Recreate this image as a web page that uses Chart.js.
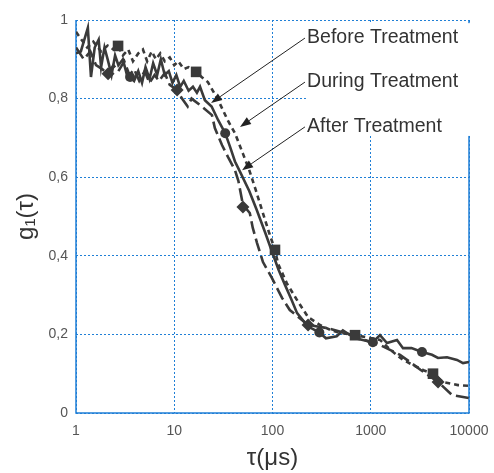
<!DOCTYPE html>
<html>
<head>
<meta charset="utf-8">
<script src="https://cdn.jsdelivr.net/npm/chart.js@4.4.0/dist/chart.umd.min.js"></script>
<style>
  body { margin: 0; background: #fff; }
  #wrap { width: 494px; height: 473px; }
</style>
</head>
<body>
<div id="wrap"><canvas id="chart-1"></canvas></div>
<script>
// Data: [tau (µs), g1]

// solid line, circles
const before = [[1,0.915],[1.12,0.92],[1.25,0.96],[1.32,0.98],[1.42,0.855],[1.55,0.93],[1.7,0.95],[1.8,0.88],
    [1.95,0.93],[2.1,0.90],[2.3,0.86],[2.5,0.91],[2.7,0.885],[3.0,0.90],[3.3,0.86],[3.55,0.855],[3.9,0.845],
    [4.3,0.87],[4.7,0.84],[5.1,0.88],[5.6,0.85],[6.1,0.89],[6.7,0.86],[7.3,0.90],[8.0,0.86],[8.8,0.87],
    [9.6,0.84],[10.5,0.86],[11.5,0.83],[12.5,0.845],[14,0.82],[15.5,0.83],[17,0.815],[18.3,0.83],[20.5,0.796],
    [24,0.78],[28,0.745],[33,0.712],[37,0.677],[41.5,0.64],[46.5,0.615],[58,0.565],[69,0.517],[84,0.46],
    [100,0.407],[115,0.365],[134,0.326],[155,0.29],[178,0.254],[230,0.22],[300,0.205],[350,0.19],[450,0.195],
    [520,0.21],[600,0.2],[700,0.19],[850,0.185],[1050,0.18],[1242,0.198],[1463,0.178],[1850,0.186],[2130,0.165],
    [2600,0.165],[3325,0.155],[4200,0.148],[4835,0.14],[5970,0.142],[7550,0.135],[8690,0.127],[10000,0.13]];
const beforeMarks = [[3.55,0.855],[33,0.712],[300,0.205],[1050,0.18],[3325,0.155]];

// short dashes, squares
const during = [[1,0.97],[1.1,0.955],[1.3,0.93],[1.5,0.945],[1.8,0.92],[2.1,0.935],[2.4,0.925],[2.68,0.934],
    [3.0,0.91],[3.4,0.925],[3.8,0.895],[4.3,0.915],[4.8,0.925],[5.3,0.895],[5.9,0.92],[6.5,0.90],[7.2,0.915],
    [8,0.895],[9,0.905],[10,0.885],[11,0.895],[12.5,0.875],[14,0.88],[16.7,0.868],[19,0.855],[22,0.842],
    [28,0.796],[35,0.745],[41.5,0.712],[50,0.66],[58,0.618],[68,0.565],[78,0.517],[92,0.46],[106,0.415],
    [114,0.38],[140,0.33],[175,0.29],[230,0.244],[304,0.224],[400,0.21],[487,0.204],[692,0.198],[900,0.193],
    [1242,0.186],[1600,0.16],[2130,0.135],[2800,0.12],[3500,0.108],[4300,0.10],[5430,0.079],[7730,0.071],[10000,0.069]];
const duringMarks = [[2.68,0.934],[16.7,0.868],[106,0.415],[692,0.198],[4300,0.10]];

// long dashes, diamonds
const after = [[1,0.93],[1.2,0.90],[1.4,0.92],[1.6,0.885],[1.85,0.875],[2.12,0.863],[2.4,0.885],[2.7,0.87],
    [3.1,0.895],[3.5,0.86],[3.9,0.875],[4.4,0.845],[5,0.87],[5.6,0.84],[6.3,0.86],[7,0.845],[8,0.865],[9,0.835],
    [10.7,0.822],[12,0.80],[13.7,0.78],[15,0.80],[18,0.785],[24.2,0.758],[25.9,0.725],[30.6,0.682],[35.3,0.651],
    [41.5,0.618],[45,0.59],[50,0.53],[58.7,0.509],[63,0.471],[69.5,0.433],[80,0.384],[98.5,0.344],[125,0.293],
    [150,0.262],[230,0.224],[360,0.216],[615,0.2],[1050,0.178],[1242,0.173],[1985,0.148],[2500,0.13],[3200,0.11],
    [4840,0.079],[6700,0.046],[10000,0.038]];
const afterMarks = [[2.12,0.863],[10.7,0.822],[50,0.524],[230,0.224],[4840,0.079]];

const xTicks = [1, 10, 100, 1000, 10000];

// labels: text, [tau, g1] of text baseline, arrow from, arrow tip
const labels = ['Before Treatment', 'During Treatment', 'After Treatment'];
const labelAt = [[225, 0.9415], [225, 0.8295], [225, 0.715]];
const arrowFrom = [[214, 0.954], [214, 0.842], [214, 0.728]];
const arrowTo = [[23.7, 0.789], [46.7, 0.728], [49, 0.618]];
const labelBox = [[219, 0.992], [10000, 0.705]];

const ink = '#3a3a3a';
const blue = '#1f7fd6';
const toXY = arr => arr.map(p => ({x: p[0], y: p[1]}));

function lineSet(arr, dash) {
    return {
        data: toXY(arr),
        borderColor: ink,
        borderWidth: 2.6,
        borderDash: dash,
        pointRadius: 0,
        tension: 0,
        order: 2,
    };
}

function markSet(arr, style, r) {
    return {
        data: toXY(arr),
        showLine: false,
        pointStyle: style,
        pointRadius: r,
        pointBorderWidth: 0,
        backgroundColor: ink,
        borderColor: ink,
        order: 1,
    };
}

// frame, white label box, labels and arrows
const annotate = {
    id: 'annotate',
    beforeDatasetsDraw(chart) {
        const {ctx, chartArea: a} = chart;
        ctx.save();
        ctx.strokeStyle = blue;
        ctx.lineWidth = 1.5;
        ctx.beginPath();
        ctx.moveTo(a.left, a.top);
        ctx.lineTo(a.left, a.bottom);
        ctx.lineTo(a.right, a.bottom);
        ctx.lineTo(a.right, a.top);
        ctx.stroke();
        ctx.restore();
    },
    afterDatasetsDraw(chart) {
        const {ctx} = chart;
        const sx = chart.scales.x, sy = chart.scales.y;
        const px = p => [sx.getPixelForValue(p[0]), sy.getPixelForValue(p[1])];
        ctx.save();
        const b0 = px(labelBox[0]), b1 = px(labelBox[1]);
        ctx.fillStyle = '#fff';
        ctx.fillRect(b0[0], b0[1], b1[0] - b0[0] + 3, b1[1] - b0[1]);

        ctx.fillStyle = '#333';
        ctx.font = '19.5px "Liberation Sans", Arial, sans-serif';
        ctx.textBaseline = 'alphabetic';
        labels.forEach((t, i) => {
            const p = px(labelAt[i]);
            ctx.fillText(t, p[0], p[1]);
        });

        ctx.strokeStyle = '#222';
        ctx.fillStyle = '#222';
        ctx.lineWidth = 1;
        arrowFrom.forEach((f, i) => {
            const p0 = px(f), p1 = px(arrowTo[i]);
            const ang = Math.atan2(p1[1] - p0[1], p1[0] - p0[0]);
            const len = 11, half = 4;
            const bx = p1[0] - len * Math.cos(ang), by = p1[1] - len * Math.sin(ang);
            ctx.beginPath();
            ctx.moveTo(p0[0], p0[1]);
            ctx.lineTo(bx, by);
            ctx.stroke();
            ctx.beginPath();
            ctx.moveTo(p1[0], p1[1]);
            ctx.lineTo(bx + half * Math.sin(ang), by - half * Math.cos(ang));
            ctx.lineTo(bx - half * Math.sin(ang), by + half * Math.cos(ang));
            ctx.closePath();
            ctx.fill();
        });
        ctx.restore();
    }
};

const config1 = {
    type: 'line',
    data: {
        datasets: [
            markSet(beforeMarks, 'circle', 5),
            markSet(duringMarks, 'rect', 7.5),
            markSet(afterMarks, 'rectRot', 6.5),
            lineSet(before, []),
            lineSet(during, [5, 4]),
            lineSet(after, [13, 5]),
        ],
    },
    options: {
        responsive: true,
        maintainAspectRatio: false,
        animation: false,
        layout: { padding: { top: 20, right: 25, bottom: 0, left: 0 } },
        plugins: { legend: { display: false }, tooltip: { enabled: false } },
        scales: {
            x: {
                type: 'logarithmic',
                min: 1,
                max: 10000,
                afterBuildTicks: s => { s.ticks = xTicks.map(v => ({value: v})); },
                afterFit: s => { s.height = 60; s.paddingLeft = 0; s.paddingRight = 0; },
                ticks: {
                    callback: v => String(v),
                    color: '#555',
                    font: { family: '"Liberation Sans", Arial', size: 14 },
                    padding: 10,
                    maxRotation: 0,
                    autoSkip: false,
                },
                grid: { color: () => blue, lineWidth: 1, drawTicks: false },
                border: { display: false, dash: [2, 2] },
                title: {
                    display: true,
                    text: 'τ(μs)',
                    color: '#333',
                    font: { family: '"Liberation Sans", Arial', size: 24 },
                    padding: { top: 0, bottom: 0 },
                },
            },
            y: {
                min: 0,
                max: 1,
                afterFit: s => { s.width = 76; s.paddingTop = 0; s.paddingBottom = 0; },
                ticks: {
                    stepSize: 0.2,
                    callback: v => String(Math.round(v * 10) / 10).replace('.', ','),
                    color: '#555',
                    font: { family: '"Liberation Sans", Arial', size: 14 },
                    padding: 8,
                },
                grid: { color: () => blue, lineWidth: 1, drawTicks: false },
                border: { display: false, dash: [2, 2] },
                title: {
                    display: true,
                    text: 'g₁(τ)',
                    color: '#333',
                    font: { family: '"Liberation Sans", Arial', size: 24 },
                    padding: { top: 12, bottom: 0 },
                },
            },
        },
    },
    plugins: [annotate],
};

const context1 = document.getElementById('chart-1').getContext('2d');
const chart1 = new Chart(context1, config1);
</script>
</body>
</html>
